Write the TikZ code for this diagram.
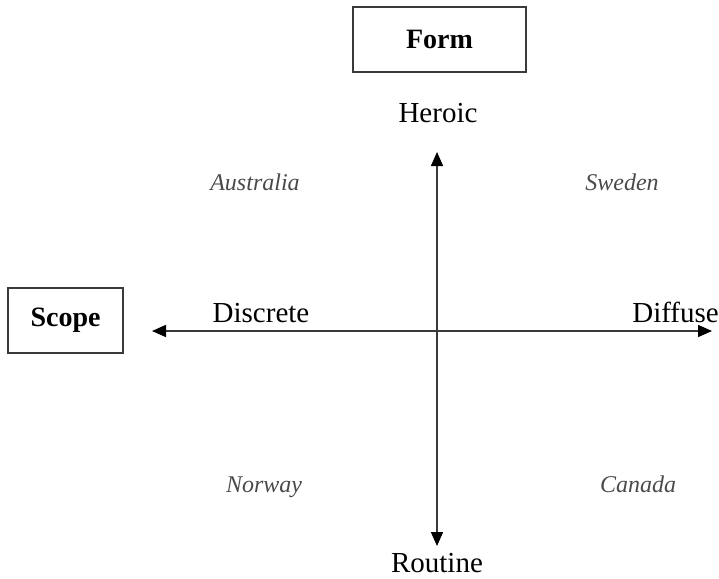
\documentclass[tikz,border=0pt]{standalone}
\usepackage{fontspec}
\setmainfont{Liberation Serif}
\usetikzlibrary{arrows.meta}
\definecolor{axisgray}{HTML}{3A3A3A}
\definecolor{countrygray}{HTML}{4A4A4A}
\tikzset{
  boxlabel/.style={draw=axisgray, line width=1.6pt, font=\fontsize{28}{30}\selectfont\bfseries, inner sep=0pt},
  axislabel/.style={font=\fontsize{29}{32}\selectfont, inner sep=0pt, anchor=base},
  country/.style={font=\fontsize{24}{26}\selectfont\itshape, text=countrygray, inner sep=0pt, anchor=base},
  axis/.style={draw=axisgray, line width=1.5pt, -{Triangle[length=14pt,width=12pt,color=black]}}
}
\begin{document}
\begin{tikzpicture}[x=1pt,y=-1pt]
\useasboundingbox (0,0) rectangle (719,578);
\node[boxlabel, minimum width=173pt, minimum height=65pt] (form) at (439.5,39.5) {Form};
\node[boxlabel, minimum width=115pt, minimum height=65pt] (scope) at (65.5,320.5) {Scope};
\coordinate (c) at (437,331);
\coordinate (top) at (437,152);
\coordinate (bot) at (437,546);
\coordinate (left) at (152,331);
\coordinate (right) at (712,331);
\draw[axis] (c) -- (top);
\draw[axis] (c) -- (bot);
\draw[axis] (c) -- (left);
\draw[axis] (c) -- (right);
\node[axislabel] (heroic) at (438,122) {Heroic};
\node[axislabel] (routine) at (437,572) {Routine};
\node[axislabel] (discrete) at (261,322) {Discrete};
\node[axislabel, anchor=base east] (diffuse) at (719,322) {Diffuse};
\node[country] (australia) at (255,190) {Australia};
\node[country] (sweden) at (622,190) {Sweden};
\node[country] (norway) at (264,492) {Norway};
\node[country] (canada) at (638,492) {Canada};
\end{tikzpicture}
\end{document}
